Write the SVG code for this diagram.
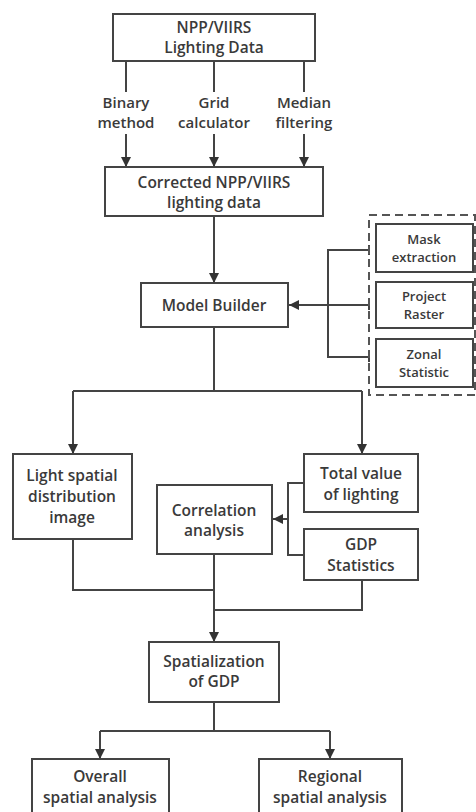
<svg xmlns="http://www.w3.org/2000/svg" width="476" height="812" viewBox="0 0 476 812">
<style>
.box{fill:#fff;stroke:#444;stroke-width:2}
.ln{fill:none;stroke:#444;stroke-width:2}
.dash{fill:none;stroke:#555;stroke-width:2;stroke-dasharray:8 5}
text{font-family:"Open Sans","Liberation Sans",sans-serif;font-weight:600;font-size:15.5px;fill:#3a3a3a;text-anchor:middle}
.s{font-size:13px}
.m{font-size:15px}
</style>
<defs>
<marker id="ah" viewBox="0 0 10 10" refX="10" refY="5" markerWidth="5" markerHeight="5.5" orient="auto" markerUnits="strokeWidth">
<path d="M0,0 L10,5 L0,10 z" fill="#333"/>
</marker>
</defs>
<rect width="476" height="812" fill="#fff"/>
<g id="connectors">
<line class="ln" x1="126" y1="61" x2="126" y2="92"/>
<line class="ln" x1="214" y1="61" x2="214" y2="92"/>
<line class="ln" x1="304" y1="61" x2="304" y2="92"/>
<line class="ln" x1="126" y1="134" x2="126" y2="167" marker-end="url(#ah)"/>
<line class="ln" x1="214" y1="134" x2="214" y2="167" marker-end="url(#ah)"/>
<line class="ln" x1="304" y1="134" x2="304" y2="167" marker-end="url(#ah)"/>
<line class="ln" x1="214" y1="216" x2="214" y2="283" marker-end="url(#ah)"/>
<path class="ln" d="M369,250 H328 V357 H369 M328,305 H369"/>
<path class="ln" d="M369,245 V255 M369,300 V310 M369,352 V362"/>
<line class="ln" x1="328" y1="305" x2="289" y2="305" marker-end="url(#ah)"/>
<line class="ln" x1="214" y1="327" x2="214" y2="391"/>
<line class="ln" x1="73" y1="391" x2="362" y2="391"/>
<line class="ln" x1="73" y1="391" x2="73" y2="454" marker-end="url(#ah)"/>
<line class="ln" x1="362" y1="391" x2="362" y2="454" marker-end="url(#ah)"/>
<path class="ln" d="M304,483 H288 V555 H304"/>
<line class="ln" x1="288" y1="519" x2="273" y2="519" marker-end="url(#ah)"/>
<path class="ln" d="M73,539 V590 H214"/>
<path class="ln" d="M362,580 V610 H214"/>
<line class="ln" x1="214" y1="554" x2="214" y2="642" marker-end="url(#ah)"/>
<line class="ln" x1="214" y1="702" x2="214" y2="731"/>
<line class="ln" x1="100" y1="731" x2="330" y2="731"/>
<line class="ln" x1="100" y1="731" x2="100" y2="759" marker-end="url(#ah)"/>
<line class="ln" x1="330" y1="731" x2="330" y2="759" marker-end="url(#ah)"/>
</g>
<g id="npp">
<rect class="box" x="113" y="14" width="202" height="47"/>
<text x="214" y="33">NPP/VIIRS</text>
<text x="214" y="53">Lighting Data</text>
</g>
<g id="binary">
<text class="m" x="126" y="108">Binary</text>
<text class="m" x="126" y="128">method</text>
</g>
<g id="grid">
<text class="m" x="214" y="108">Grid</text>
<text class="m" x="214" y="128">calculator</text>
</g>
<g id="median">
<text class="m" x="304" y="108">Median</text>
<text class="m" x="304" y="128">filtering</text>
</g>
<g id="corrected">
<rect class="box" x="105" y="167" width="218" height="49"/>
<text x="214" y="188">Corrected NPP/VIIRS</text>
<text x="214" y="208">lighting data</text>
</g>
<g id="modelbuilder">
<rect class="box" x="141" y="283" width="147" height="44"/>
<text x="214" y="311">Model Builder</text>
</g>
<g id="tools">
<rect class="dash" x="369" y="215" width="106" height="180"/>
</g>
<g id="mask">
<rect class="box" x="376" y="224" width="97" height="48"/>
<text class="s" x="424" y="244">Mask</text>
<text class="s" x="424" y="262">extraction</text>
</g>
<g id="project">
<rect class="box" x="376" y="282" width="97" height="46"/>
<text class="s" x="424" y="301">Project</text>
<text class="s" x="424" y="319">Raster</text>
</g>
<g id="zonal">
<rect class="box" x="376" y="339" width="97" height="48"/>
<text class="s" x="424" y="359">Zonal</text>
<text class="s" x="424" y="377">Statistic</text>
</g>
<g id="lightspatial">
<rect class="box" x="13" y="454" width="119" height="85"/>
<text x="72" y="481">Light spatial</text>
<text x="72" y="502">distribution</text>
<text x="72" y="523">image</text>
</g>
<g id="totalvalue">
<rect class="box" x="304" y="454" width="114" height="58"/>
<text x="361" y="479">Total value</text>
<text x="361" y="500">of lighting</text>
</g>
<g id="gdpstat">
<rect class="box" x="304" y="529" width="114" height="51"/>
<text x="361" y="550">GDP</text>
<text x="361" y="571">Statistics</text>
</g>
<g id="correlation">
<rect class="box" x="157" y="485" width="115" height="69"/>
<text x="214" y="516">Correlation</text>
<text x="214" y="536">analysis</text>
</g>
<g id="spatialization">
<rect class="box" x="149" y="642" width="130" height="60"/>
<text x="214" y="667">Spatialization</text>
<text x="214" y="687">of GDP</text>
</g>
<g id="overall">
<rect class="box" x="32" y="759" width="137" height="60"/>
<text x="100" y="782">Overall</text>
<text x="100" y="803">spatial analysis</text>
</g>
<g id="regional">
<rect class="box" x="259" y="759" width="143" height="60"/>
<text x="330" y="782">Regional</text>
<text x="330" y="803">spatial analysis</text>
</g>
</svg>
